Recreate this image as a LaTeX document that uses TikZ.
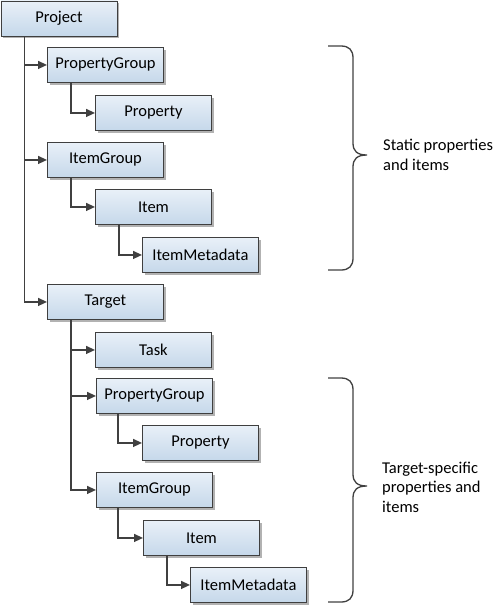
\documentclass[tikz,border=0pt]{standalone}
\usepackage{fontspec}
\setmainfont{Carlito}
\usetikzlibrary{arrows.meta,shadows}
\definecolor{boxtop}{HTML}{E9F0F8}
\definecolor{boxbot}{HTML}{C5D8EA}
\definecolor{edge}{HTML}{3F3F3F}
\definecolor{conncol}{HTML}{404040}
\tikzset{
  box/.style={draw=edge, line width=0.9pt, shading=axis, top color=boxtop, bottom color=boxbot,
    minimum width=116pt, minimum height=35pt, inner sep=0pt, anchor=north west,
    font=\fontsize{16.5}{20}\selectfont,
    drop shadow={shadow xshift=2.2pt, shadow yshift=-2.2pt, fill=black!30, opacity=1}},
  conn/.style={draw=conncol, line width=1.4pt, -{Triangle[length=9pt,width=8pt]}},
  bracecol/.style={draw=conncol, line width=1.3pt},
  note/.style={anchor=west, align=left, inner sep=0pt, font=\fontsize{16.5}{19.5}\selectfont}
}
\begin{document}
\begin{tikzpicture}[x=1pt,y=-1pt]
\useasboundingbox (0,0) rectangle (498,606);
\node[box] (proj) at (0.5,0.5) {Project};
\node[box] (pg1) at (47,47) {PropertyGroup};
\node[box] (prop1) at (95,95) {Property};
\node[box] (ig1) at (47,142) {ItemGroup};
\node[box] (it1) at (95,189) {Item};
\node[box] (im1) at (142,237) {ItemMetadata};
\node[box] (tgt) at (47,284) {Target};
\node[box] (task) at (95,332) {Task};
\node[box] (pg2) at (96,378) {PropertyGroup};
\node[box] (prop2) at (142,425) {Property};
\node[box] (ig2) at (96,472) {ItemGroup};
\node[box] (it2) at (143,520) {Item};
\node[box] (im2) at (190,567) {ItemMetadata};

\draw[conn] ([xshift=24pt]proj.south west) |- (pg1.west);
\draw[conn] ([xshift=24pt]proj.south west) |- (ig1.west);
\draw[conn] ([xshift=24pt]proj.south west) |- (tgt.west);
\draw[conn] ([xshift=24pt]pg1.south west) |- (prop1.west);
\draw[conn] ([xshift=24pt]ig1.south west) |- (it1.west);
\draw[conn] ([xshift=24pt]it1.south west) |- (im1.west);
\draw[conn] ([xshift=24pt]tgt.south west) |- (task.west);
\draw[conn] ([xshift=24pt]tgt.south west) |- (pg2.west);
\draw[conn] ([xshift=24pt]tgt.south west) |- (ig2.west);
\draw[conn] ([xshift=22pt]pg2.south west) |- (prop2.west);
\draw[conn] ([xshift=22pt]ig2.south west) |- (it2.west);
\draw[conn] ([xshift=24pt]it2.south west) |- (im2.west);

\draw[bracecol] (328,46) -- (341,46) .. controls (349,46) and (353,50) .. (353,58) -- (353,143)
  .. controls (353,151) and (357,155) .. (367,155) .. controls (357,155) and (353,159) .. (353,167)
  -- (353,258) .. controls (353,266) and (349,270) .. (341,270) -- (328,270);
\draw[bracecol] (328,378) -- (341,378) .. controls (349,378) and (353,382) .. (353,390) -- (353,474)
  .. controls (353,482) and (357,486) .. (367,486) .. controls (357,486) and (353,490) .. (353,498)
  -- (353,590) .. controls (353,598) and (349,602) .. (341,602) -- (328,602);

\node[note] (n1) at (383,155) {Static properties\\and items};
\node[note] (n2) at (382,487) {Target-specific\\properties and\\items};
\end{tikzpicture}
\end{document}
